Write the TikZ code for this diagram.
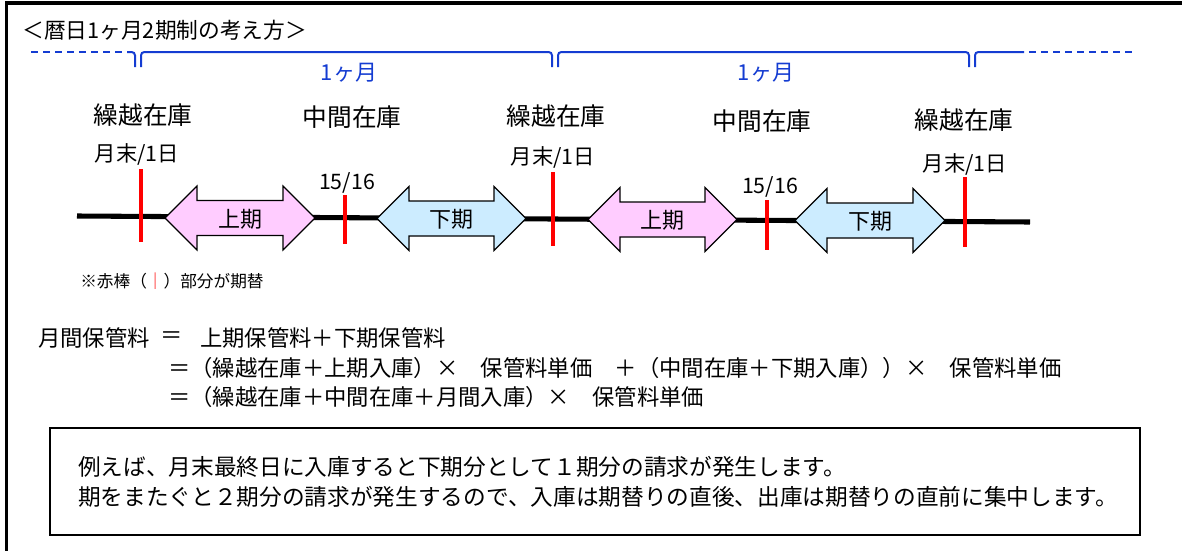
\documentclass[tikz,border=0pt]{standalone}
\usepackage{fontspec}
\setmainfont{Noto Sans CJK JP}
\definecolor{bracketblue}{RGB}{20,60,210}
\definecolor{pinkfill}{RGB}{255,204,255}
\definecolor{bluefill}{RGB}{204,236,255}
\definecolor{tickred}{RGB}{255,0,0}
\newcommand{\dblarr}[4]{% left tip x, right tip x, centre y, fill colour
  \draw[arrowshape, fill=#4] (#1,#3) -- (#1+32,#3-32) -- (#1+32,#3-17.5) -- (#2-32,#3-17.5)
    -- (#2-32,#3-32) -- (#2,#3) -- (#2-32,#3+32) -- (#2-32,#3+17.5) -- (#1+32,#3+17.5)
    -- (#1+32,#3+32) -- cycle;}
\begin{document}
\begin{tikzpicture}[x=0.75pt,y=-0.75pt,
  every node/.style={inner sep=0pt},
  titlefont/.style={font=\fontsize{16.3pt}{19pt}\selectfont},
  stocklbl/.style={font=\fontsize{18.5pt}{22pt}\selectfont},
  datelbl/.style={font=\fontsize{16pt}{19pt}\selectfont},
  monthlbl/.style={font=\fontsize{16.5pt}{19pt}\selectfont, text=bracketblue},
  periodlbl/.style={font=\fontsize{16.5pt}{19pt}\selectfont},
  notelbl/.style={font=\fontsize{12.5pt}{15pt}\selectfont},
  formula/.style={font=\fontsize{16.75pt}{19pt}\selectfont},
  boxtext/.style={font=\fontsize{17pt}{20pt}\selectfont},
  bracket/.style={draw=bracketblue, line width=1.5pt, rounded corners=2.5pt},
  bracketdash/.style={draw=bracketblue, line width=1.5pt, dash pattern=on 5.25pt off 3.75pt},
  arrowshape/.style={draw=black, line width=0.9pt, line join=miter},
  redtick/.style={draw=tickred, line width=3pt},
  timeline/.style={draw=black, line width=3.8pt},
]
\useasboundingbox (0,0) rectangle (1182,550);
\fill[white] (0,0) rectangle (1182,550);
% outer frame (top and left edges)
\draw[line width=2.8pt] (6.5,551) -- (6.5,3) -- (1183,3);

% title
\node[titlefont, anchor=west] (title) at (22,30) {＜暦日1ヶ月2期制の考え方＞};

% month brackets
\draw[bracketdash] (31,52) -- (123,52);
\draw[bracket] (127,52) -- (135,52) -- (135,67);
\draw[bracket] (141,67) -- (141,52) -- (552,52) -- (552,67);
\draw[bracket] (558,67) -- (558,52) -- (969,52) -- (969,67);
\draw[bracket] (975,67) -- (975,52) -- (1024,52);
\draw[bracketdash] (1029,52) -- (1134,52);
\node[monthlbl] (m1) at (349,73) {1ヶ月};
\node[monthlbl] (m2) at (766,73) {1ヶ月};

% stock labels
\node[stocklbl] (s1) at (143,115) {繰越在庫};
\node[stocklbl] (s2) at (352,117) {中間在庫};
\node[stocklbl] (s3) at (556,116) {繰越在庫};
\node[stocklbl] (s4) at (762,121) {中間在庫};
\node[stocklbl] (s5) at (964,120) {繰越在庫};

% date labels
\node[datelbl] (d1) at (137,154) {月末/1日};
\node[datelbl] (d2) at (347,183) {15/16};
\node[datelbl] (d3) at (553,157) {月末/1日};
\node[datelbl] (d4) at (770,187) {15/16};
\node[datelbl] (d5) at (965,164) {月末/1日};

% timeline
\coordinate (tlstart) at (77,216);
\coordinate (tlend) at (1030,222);
\draw[timeline] (tlstart) -- (tlend);

% period arrows
\dblarr{165}{315}{218}{pinkfill}
\dblarr{377}{526}{218.5}{bluefill}
\dblarr{588}{737}{219.5}{pinkfill}
\dblarr{795}{945}{220.5}{bluefill}
\node[periodlbl] (p1) at (240,219) {上期};
\node[periodlbl] (p2) at (451.5,219.5) {下期};
\node[periodlbl] (p3) at (662.5,220.5) {上期};
\node[periodlbl] (p4) at (870,221.5) {下期};

% red period-change ticks
\draw[redtick] (141,169) -- (141,242);
\draw[redtick] (345,195) -- (345,244);
\draw[redtick] (553,172) -- (553,246);
\draw[redtick] (767,200) -- (767,250);
\draw[redtick] (965,177) -- (965,247);

% note
\node[notelbl, anchor=west] (note) at (80,281) {※赤棒（\textcolor{tickred}{｜}）部分が期替};

% formulas
\node[formula, anchor=west] (f1a) at (38,338) {月間保管料};
\node[formula] (f1eq) at (172,338) {＝};
\node[formula, anchor=west] (f1b) at (200,338) {上期保管料＋下期保管料};
\node[formula, anchor=west] (f2) at (168,368) {＝（繰越在庫＋上期入庫）×　保管料単価　＋（中間在庫＋下期入庫））×　保管料単価};
\node[formula, anchor=west] (f3) at (168,397) {＝（繰越在庫＋中間在庫＋月間入庫）×　保管料単価};

% example box
\node[draw=black, line width=1.2pt, minimum width=817.5pt, minimum height=80.25pt] (notebox) at (595,481.5) {};
\node[boxtext, anchor=west] (b1) at (78,467) {例えば、月末最終日に入庫すると下期分として１期分の請求が発生します。};
\node[boxtext, anchor=west] (b2) at (78,497) {期をまたぐと２期分の請求が発生するので、入庫は期替りの直後、出庫は期替りの直前に集中します。};
\end{tikzpicture}
\end{document}
